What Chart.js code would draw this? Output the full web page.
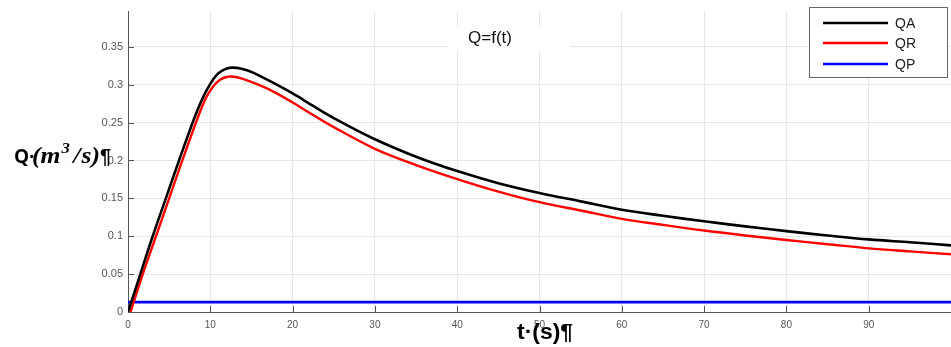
<!DOCTYPE html>
<html>
<head>
<meta charset="utf-8">
<script src="https://cdn.jsdelivr.net/npm/chart.js@4.4.1/dist/chart.umd.min.js"></script>
<style>
html,body{margin:0;padding:0;background:#fff;}
#wrap{width:951px;height:347px;position:relative;}
</style>
</head>
<body>
<div id="wrap"><canvas id="c" width="951" height="347"></canvas></div>
<script>
// ---- data ----
const tA = [0, 1.5, 3, 4.6, 6.2, 8.1, 9.1, 10, 10.7, 11.5, 12.5, 13.8, 15.2, 17.2, 20, 22.5, 25, 30, 35, 40, 45, 50, 55, 60, 65, 70, 75, 80, 85, 90, 95, 100];
const qA = [0, 0.05, 0.1, 0.15, 0.2, 0.257, 0.283, 0.301, 0.312, 0.319, 0.3225, 0.3212, 0.316, 0.305, 0.2885, 0.272, 0.256, 0.228, 0.205, 0.186, 0.170, 0.157, 0.146, 0.135, 0.127, 0.1197, 0.113, 0.1067, 0.101, 0.0958, 0.092, 0.088];
const tR = [0.3, 1.8, 3.4, 5.0, 6.6, 8.5, 9.5, 10.3, 11.1, 12.1, 13.1, 14.8, 17.2, 20, 22.5, 25, 30, 35, 40, 45, 50, 55, 60, 65, 70, 75, 80, 85, 90, 95, 100];
const qR = [0, 0.05, 0.1, 0.15, 0.2, 0.257, 0.283, 0.297, 0.306, 0.3105, 0.3102, 0.3045, 0.2935, 0.2765, 0.26, 0.244, 0.2154, 0.194, 0.1755, 0.159, 0.145, 0.134, 0.123, 0.115, 0.1075, 0.101, 0.095, 0.0895, 0.084, 0.080, 0.0762];
const tP = [0, 100];
const qP = [0.013, 0.013];
const seriesNames = ['QA', 'QR', 'QP'];
const seriesColors = ['#000000', '#ff0000', '#0000ff'];
const xTickStep = 10;
const yTickStep = 0.05;
const chartTitle = 'Q=f(t)';

function pts(t, q){ return t.map((v,i)=>({x:v, y:q[i]})); }

const extras = {
  id: 'extras',
  beforeDatasetsDraw(chart){
    const ctx = chart.ctx, a = chart.chartArea;
    const xs = chart.scales.x, ys = chart.scales.y;
    ctx.save();
    // inner tick marks
    ctx.strokeStyle = '#555'; ctx.lineWidth = 1;
    ys.ticks.forEach(t=>{
      const y = Math.round(ys.getPixelForValue(t.value))+0.5;
      ctx.beginPath(); ctx.moveTo(a.left, y); ctx.lineTo(a.left+6, y); ctx.stroke();
    });
    xs.ticks.forEach(t=>{
      const x = Math.round(xs.getPixelForValue(t.value))+0.5;
      ctx.beginPath(); ctx.moveTo(x, a.bottom); ctx.lineTo(x, a.bottom-6); ctx.stroke();
    });
    // title with white box
    ctx.fillStyle = '#fff';
    ctx.fillRect(448, 27, 122, 24);
    ctx.fillStyle = '#111';
    ctx.font = '17px "Liberation Sans", Arial, sans-serif';
    ctx.textAlign = 'center'; ctx.textBaseline = 'middle';
    ctx.fillText(chartTitle, 490, 38);
    ctx.restore();
  },
  afterDraw(chart){
    const ctx = chart.ctx;
    ctx.save();
    // legend
    ctx.fillStyle = '#fff';
    ctx.fillRect(809, 7, 138, 70);
    ctx.strokeStyle = '#666'; ctx.lineWidth = 1;
    ctx.strokeRect(809.5, 7.5, 138, 70);
    const ly = [23, 43, 64];
    ctx.font = '14px "Liberation Sans", Arial, sans-serif';
    ctx.textAlign = 'left'; ctx.textBaseline = 'middle';
    seriesNames.forEach((n,i)=>{
      ctx.strokeStyle = seriesColors[i]; ctx.lineWidth = 2.5;
      ctx.beginPath(); ctx.moveTo(823, ly[i]); ctx.lineTo(888, ly[i]); ctx.stroke();
      ctx.fillStyle = '#222';
      ctx.fillText(n, 895, ly[i]+1);
    });
    // y-axis label: Q·(m³/s)¶
    ctx.fillStyle = '#000';
    ctx.textBaseline = 'alphabetic';
    const by = 163;
    ctx.font = 'bold 19px "Open Sans", "DejaVu Sans", sans-serif';
    ctx.fillText('Q·', 14, by);
    // math part, fit into 32..100
    ctx.save();
    ctx.translate(32, by);
    const serif = '"Liberation Serif", "DejaVu Serif", serif';
    const parts = [['(', 23, 0, 0], ['m', 23, 0, 1], ['3', 15, -10, 3], ['/', 23, 0, 1], ['s', 23, 0, 0], [')', 23, 0, 0]];
    let w = 0;
    parts.forEach(p=>{ ctx.font = 'bold italic '+p[1]+'px '+serif; w += ctx.measureText(p[0]).width + p[3]; });
    ctx.scale(68 / w, 1);
    let x = 0;
    parts.forEach(p=>{ ctx.font = 'bold italic '+p[1]+'px '+serif; ctx.fillText(p[0], x, p[2]); x += ctx.measureText(p[0]).width + p[3]; });
    ctx.restore();
    ctx.font = 'bold 20px "Liberation Sans", Arial, sans-serif';
    ctx.fillText('¶', 100, by);
    // x-axis label: t·(s)¶ (condensed)
    ctx.save();
    ctx.translate(517, 339);
    ctx.font = 'bold 22px "Liberation Sans", Arial, sans-serif';
    const tw = ctx.measureText('t·(s)¶').width;
    ctx.scale(56 / tw, 1);
    ctx.fillText('t·(s)¶', 0, 0);
    ctx.restore();
    ctx.restore();
  }
};

new Chart(document.getElementById('c'), {
  type: 'line',
  data: {
    datasets: [
      {label: seriesNames[0], data: pts(tA,qA), borderColor: seriesColors[0], borderWidth: 2.6, pointRadius: 0, tension: 0.35, fill: false},
      {label: seriesNames[1], data: pts(tR,qR), borderColor: seriesColors[1], borderWidth: 2.4, pointRadius: 0, tension: 0.35, fill: false},
      {label: seriesNames[2], data: pts(tP,qP), borderColor: seriesColors[2], borderWidth: 2.6, pointRadius: 0, fill: false}
    ]
  },
  options: {
    responsive: false,
    animation: false,
    layout: {padding: {top: 8, right: 0, left: 0, bottom: 0}},
    plugins: {legend: {display: false}, tooltip: {enabled: false}, title: {display: false}},
    scales: {
      x: {
        type: 'linear', min: 0, max: 100,
        ticks: {stepSize: xTickStep, color: '#555', font: {size: 10, family: '"Liberation Sans", Arial, sans-serif'}, padding: 7, maxRotation: 0},
        afterBuildTicks(s){ s.ticks = s.ticks.filter(t => t.value <= 90.001); },
        afterFit(s){ s.height = 35; },
        grid: {color: '#e6e6e6', drawTicks: false},
        border: {display: true, color: '#555', width: 1}
      },
      y: {
        min: 0, max: 0.3965,
        ticks: {stepSize: yTickStep, color: '#555', font: {size: 11, family: '"Liberation Sans", Arial, sans-serif'}, padding: 5,
          callback: v => String(+v.toFixed(2))},
        afterBuildTicks(s){ s.ticks = s.ticks.filter(t => t.value <= 0.3501); },
        afterFit(s){ s.width = 128; },
        grid: {color: '#e6e6e6', drawTicks: false},
        border: {display: true, color: '#555', width: 1}
      }
    }
  },
  plugins: [extras]
});
</script>
</body>
</html>
